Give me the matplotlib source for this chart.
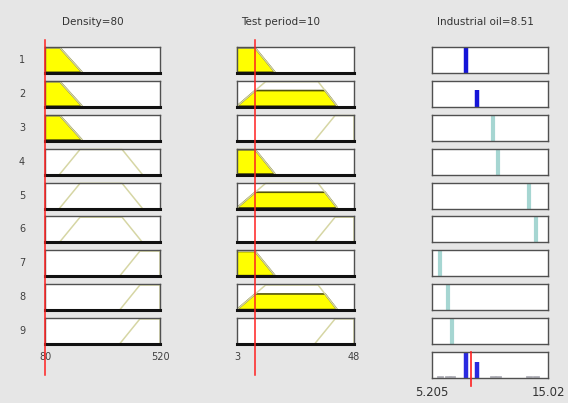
import numpy as np
import matplotlib
matplotlib.use("Agg")
import matplotlib.pyplot as plt
from matplotlib.lines import Line2D
from matplotlib.transforms import blended_transform_factory

# inputs and output ranges
density_range = (80, 520)
period_range = (3, 48)
oil_range = (5.205, 15.02)
density_in = 80
period_in = 10
oil_out = 8.51

# membership functions as trapezoids [a, b, c, d]
density_mfs = [[80, 80, 137, 222],     # low
               [137, 214, 375, 451],   # mid
               [367, 443, 520, 520]]   # high
period_mfs = [[3, 3, 9.9, 17.6],
              [3, 14, 34.2, 41.5],
              [33, 40.7, 48, 48]]

# rule table: (density mf, period mf) per rule
rule_density = [0, 0, 0, 1, 1, 1, 2, 2, 2]
rule_period = [0, 1, 2, 0, 1, 2, 0, 1, 2]
# singleton output per rule
oil_levels = [8.05, 9.05, 10.37, 10.79, 13.41, 14.0, 5.88, 6.56, 6.9]

BG = '#e6e6e6'
W, H = 568, 403


def trap_mu(mf, x):
    a, b, c, d = mf
    if b <= x <= c:
        return 1.0
    if a < x < b:
        return (x - a) / (b - a)
    if c < x < d:
        return (d - x) / (d - c)
    return 0.0


def clipped(mf, h):
    a, b, c, d = mf
    xs = [a, a + (b - a) * h, d - (d - c) * h, d]
    ys = [0, h, h, 0]
    return xs, ys


def box(x0, x1, top, height=26):
    return fig.add_axes([x0 / W, 1 - (top + height) / H, (x1 - x0) / W, height / H])


fig = plt.figure(figsize=(W / 100, H / 100), dpi=100, facecolor=BG)

cols = [(45, 160), (237, 354), (432, 548)]
tops = [47 + 33.9 * i for i in range(10)]


def input_box(ax, mf, deg, rng):
    ax.set_xlim(*rng)
    ax.set_ylim(-0.03, 1.03)
    ax.set_facecolor('white')
    ax.set_xticks([])
    ax.set_yticks([])
    for s in ax.spines.values():
        s.set_color('#505050')
        s.set_linewidth(1)
    ax.spines['bottom'].set_color('#111111')
    ax.spines['bottom'].set_linewidth(2.2)
    # full mf outline
    xs, ys = clipped(mf, 1.0)
    ax.plot(xs, ys, color='#d6d6a4', lw=1.1, clip_on=False)
    if deg > 0:
        fx, fy = clipped(mf, deg)
        ax.fill(fx, fy, facecolor='#ffff00', edgecolor='#55550a', lw=1.2)


density_deg = [trap_mu(m, density_in) for m in density_mfs]
period_deg = [trap_mu(m, period_in) for m in period_mfs]
weights = [min(density_deg[i], period_deg[j]) for i, j in zip(rule_density, rule_period)]

in_axes = [[], []]
for r in range(9):
    a1 = box(*cols[0], tops[r])
    input_box(a1, density_mfs[rule_density[r]], density_deg[rule_density[r]], density_range)
    a2 = box(*cols[1], tops[r])
    input_box(a2, period_mfs[rule_period[r]], period_deg[rule_period[r]], period_range)
    in_axes[0].append(a1)
    in_axes[1].append(a2)

    a3 = box(*cols[2], tops[r])
    a3.set_xlim(*oil_range)
    a3.set_ylim(0, 1)
    a3.set_xticks([])
    a3.set_yticks([])
    for s in a3.spines.values():
        s.set_color('#505050')
        s.set_linewidth(1)
    v, w = oil_levels[r], weights[r]
    if w > 0:
        a3.plot([v, v], [0, w], color='#1515d8', lw=3.2, solid_capstyle='butt')
    else:
        a3.plot([v, v], [0, 1], color='#a6d6d2', lw=3, solid_capstyle='butt')

    fig.text(22 / W, 1 - (tops[r] + 13) / H, str(r + 1), ha='center', va='center',
             fontsize=7, color='#404040')

# aggregated output
agg = box(*cols[2], tops[9])
agg.set_xlim(*oil_range)
agg.set_ylim(0, 1)
agg.set_xticks([])
agg.set_yticks([])
for s in agg.spines.values():
    s.set_color('#505050')
    s.set_linewidth(1)
for v, w in zip(oil_levels, weights):
    if w > 0:
        agg.plot([v, v], [0, w], color='#2a2ae0', lw=3.2, solid_capstyle='butt')
    else:
        agg.plot([v - 0.15, v + 0.15], [0.03, 0.03], color='#b0b0b8', lw=2)

# red value lines
for ax, val in [(in_axes[0][0], density_in), (in_axes[1][0], period_in)]:
    tr = blended_transform_factory(ax.transData, fig.transFigure)
    fig.add_artist(Line2D([val, val], [1 - 40 / H, 1 - 375 / H], transform=tr,
                          color='#ff2020', lw=1.1, zorder=10))
tr = blended_transform_factory(agg.transData, fig.transFigure)
fig.add_artist(Line2D([oil_out, oil_out], [1 - 352 / H, 1 - 386 / H], transform=tr,
                      color='#ff2020', lw=1.2, zorder=10))

# titles
fig.text(93 / W, 1 - 22 / H, f'Density={density_in}', ha='center', va='center',
         fontsize=7.5, color='#333333')
fig.text(281 / W, 1 - 22 / H, f'Test period={period_in}', ha='center', va='center',
         fontsize=7.5, color='#333333')
fig.text(485 / W, 1 - 22 / H, f'Industrial oil={oil_out}', ha='center', va='center',
         fontsize=7.5, color='#333333')

# range labels
for (x0, x1), rng in zip(cols[:2], [density_range, period_range]):
    fig.text(x0 / W, 1 - 357 / H, f'{rng[0]:g}', ha='center', va='center',
             fontsize=7, color='#404040')
    fig.text(x1 / W, 1 - 357 / H, f'{rng[1]:g}', ha='center', va='center',
             fontsize=7, color='#404040')
fig.text(cols[2][0] / W, 1 - 392 / H, f'{oil_range[0]:g}', ha='center', va='center',
         fontsize=8.5, color='#333333')
fig.text(cols[2][1] / W, 1 - 392 / H, f'{oil_range[1]:g}', ha='center', va='center',
         fontsize=8.5, color='#333333')

fig.savefig('out.png', dpi=100, facecolor=BG)
